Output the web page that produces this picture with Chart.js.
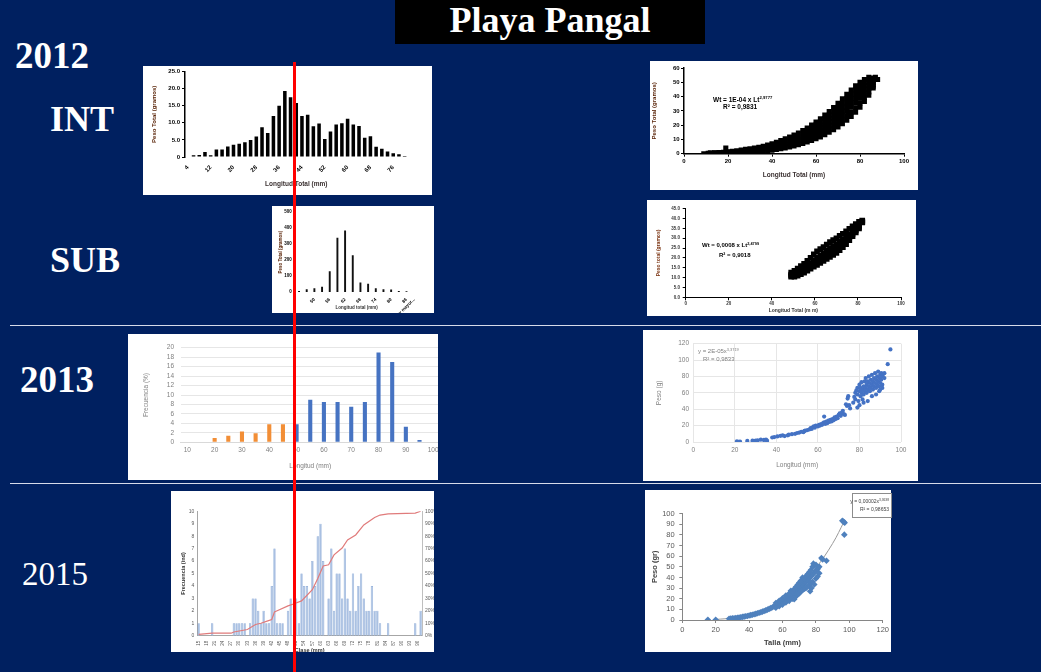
<!DOCTYPE html>
<html lang="es">
<head>
<meta charset="utf-8">
<title>Playa Pangal</title>
<script src="https://cdn.jsdelivr.net/npm/chart.js@4.4.1/dist/chart.umd.min.js"></script>
<style>
  html, body { margin: 0; padding: 0; }
  body { width: 1041px; height: 672px; background: #002060; position: relative; overflow: hidden; }
  .big { position: absolute; color: #fff; font-family: "Liberation Serif", "Times New Roman", serif;
         font-weight: bold; line-height: 1; white-space: nowrap; }
  #title { position: absolute; left: 395px; top: 0; width: 310px; height: 44px; background: #000; }
  #title .big { left: 0; right: 0; top: 2px; text-align: center; font-size: 36px; }
  .panel { position: absolute; background: #fff; overflow: hidden; }
  .panel canvas { position: absolute; }
  .sep { position: absolute; left: 10px; width: 1031px; height: 1px; background: #d6dbe9; }
  #redline { position: absolute; left: 293px; top: 62px; width: 3px; height: 610px; background: #ff0000; z-index: 20; }
  .eq { position: absolute; white-space: nowrap; line-height: 1; z-index: 5;
        font-family: "Liberation Sans", Arial, sans-serif; }
  .eq sup { font-size: 65%; vertical-align: 0; position: relative; top: -0.6em; }
  #eqbox { position: absolute; left: 852px; top: 493px; width: 38px; height: 23px; background: #fff;
           border: 1px solid #8c8c8c; z-index: 5; font-family: "Liberation Sans", Arial, sans-serif;
           font-size: 5px; color: #404040; text-align: right; line-height: 1; }
  #eqbox div { position: absolute; right: 2px; white-space: nowrap; }
  #eqbox sup { font-size: 65%; vertical-align: 0; position: relative; top: -0.6em; }
</style>
</head>
<body>
<div id="title"><span class="big">Playa Pangal</span></div>
<span class="big" style="left:15px;top:37px;font-size:37px">2012</span>
<span class="big" style="left:50px;top:101px;font-size:36px">INT</span>
<span class="big" style="left:50px;top:242px;font-size:36px">SUB</span>
<span class="big" style="left:20px;top:361px;font-size:37px">2013</span>
<span class="big" style="left:22px;top:558px;font-size:33px;font-weight:normal">2015</span>
<div class="sep" style="top:325px"></div>
<div class="sep" style="top:483px"></div>

<div class="eq" style="left:713px;top:97px;font-size:6.5px;font-weight:bold;color:#000">Wt = 1E-04 x Lt<sup>2,9777</sup></div>
<div class="eq" style="left:723px;top:104px;font-size:6.5px;font-weight:bold;color:#000">R² = 0,9831</div>
<div class="eq" style="left:702px;top:242px;font-size:6px;font-weight:bold;color:#000">Wt = 0,0008 x Lt<sup>2,4799</sup></div>
<div class="eq" style="left:719px;top:251.5px;font-size:6px;font-weight:bold;color:#000">R² = 0,9018</div>
<div class="eq" style="left:698px;top:348px;font-size:6px;color:#7f7f7f">y = 2E-05x<sup>3,3719</sup></div>
<div class="eq" style="left:703px;top:355.5px;font-size:6px;color:#7f7f7f">R² = 0,9833</div>
<div id="eqbox">
  <div style="top:5px">y = 0,00002x<sup>3,3638</sup></div>
  <div style="top:13px">R² = 0,98653</div>
</div>
<div id="redline"></div>

<script>
// ---------- 2012 INT : histogram ----------
const intClasses = ['4','6','8','10','12','14','16','18','20','22','24','26','28','30','32','34','36','38','40',
  '42','44','46','48','50','52','54','56','58','60','62','64','66','68','70','72','74','76','78','80'];
const intWeight = [0, 0.5, 0.6, 1.5, 0.5, 2.2, 2.2, 3.1, 3.6, 3.9, 4.3, 5.0, 6.0, 8.7, 7.0, 12.0, 15.0, 19.3,
  17.5, 15.8, 12.0, 12.4, 9.0, 9.8, 5.3, 7.5, 9.5, 9.9, 11.2, 9.5, 9.1, 5.6, 6.1, 3.0, 2.4, 1.6, 1.1, 0.8, 0.3];

// ---------- 2012 INT : length-weight cloud (read in rows) ----------
const intLen = [12,14,16,18,20,22,24,26,28,30,32,34,36,38,40,42,44,46,48,50,52,54,56,58,60,62,64,66,68,70,72,74,76,78,80,82,84,86];
const intRow1 = [0,0,0,0.1,0.2,0.3,0.4,0.5,0.6,0.8,1.0,1.3,1.6,2.0,2.5,3.0,3.5,4.1,4.8,5.5,6.3,7.2,8.2,9.3,10.5,11.8,13.3,15.0,16.8,18.8,21.0,23.4,26.0,29.0,32.5,36.5,41.0,46.0];
const intRow2 = [0.2,0.2,0.3,0.4,0.5,0.7,0.9,1.1,1.3,1.6,1.9,2.3,2.8,3.3,3.9,4.6,5.3,6.1,7.0,8.0,9.1,10.3,11.6,13.0,14.5,16.2,18.0,20.0,22.2,24.5,27.0,29.7,32.5,35.5,38.8,42.0,45.5,48.5];
const intRow3 = [0.3,0.4,0.5,0.7,0.9,1.1,1.4,1.7,2.0,2.4,2.8,3.3,3.9,4.5,5.3,6.1,7.0,8.0,9.1,10.3,11.6,13.0,14.6,16.3,18.1,20.1,22.3,24.6,27.1,29.8,32.6,35.6,38.7,41.8,44.8,47.5,50.0,51.0];
const intRow4 = [0.5,0.6,0.8,1.0,1.4,1.7,2.1,2.5,3.0,3.4,3.9,4.5,5.2,6.0,7.0,8.0,9.2,10.4,11.6,13.0,14.5,16.2,18.0,20.0,22.2,24.5,27.0,29.6,32.4,35.3,38.4,41.6,44.5,47.5,50.0,52.0,53.5,53.0];
// denser upper part of the cloud
const intLenHi = [56,58,60,62,64,66,68,70,72,74,76,78,80,82,84,86];
const intRowA = [9.9,11.2,12.5,14.0,15.6,17.5,19.5,21.6,24.0,26.5,29.2,32.2,35.6,39.2,43.2,47.2];
const intRowB = [13.1,14.6,16.3,18.1,20.1,22.3,24.6,27.1,29.8,32.6,35.6,38.6,41.8,44.8,47.8,49.8];
const intRowC = [16.3,18.1,20.1,22.3,24.6,27.1,29.7,32.5,35.5,38.6,41.6,44.6,47.4,49.8,51.8,52.0];
const intExtra = [[9,0],[11,0.2],[19,4],[74.5,27],[87,53.5],[88,52]];

// ---------- 2012 SUB : histogram ----------
const subClasses = ['44','47','50','53','56','59','62','65','68','71','74','77','80','83','86','y mayor...'];
const subWeight = [6, 17, 23, 33, 130, 340, 385, 230, 60, 52, 23, 17, 15, 6, 4, 0];

// ---------- 2012 SUB : length-weight cloud ----------
const subLen  = [49,50.5,52,53.5,55,56.5,58,59.5,61,62.5,64,65.5,67,68.5,70,71.5,73,74.5,76,77.5,79,80.5,82];
const subLow  = [10.5,10.5,11.0,11.8,12.5,13.5,14.5,15.5,16.5,17.5,18.5,19.5,20.5,21.5,22.5,24.0,25.5,27.0,29.0,31.0,33.0,35.0,38.0];
const subLowMid = [11.0,11.2,11.9,12.8,13.6,14.7,15.9,17.1,18.2,19.4,20.5,21.6,22.7,23.7,24.7,26.1,27.5,28.9,30.5,32.2,34.0,35.7,38.2];
const subMid  = [11.5,12.0,12.8,13.8,14.8,16.0,17.3,18.8,20.0,21.3,22.5,23.8,25.0,26.0,27.0,28.3,29.5,30.8,32.0,33.5,35.0,36.5,38.5];
const subHigh = [12.5,13.5,14.6,15.8,17.0,18.5,20.0,21.8,23.3,24.5,25.5,26.8,28.0,29.0,30.0,31.2,32.3,33.5,34.8,36.0,37.2,38.3,39.0];

// ---------- 2013 : frequency histogram ----------
const h13Classes = ['10','15','20','25','30','35','40','45','50','55','60','65','70','75','80','85','90','95','100'];
const h13Juv = [null,null,0.9,1.4,2.3,1.9,3.8,3.8,null,null,null,null,null,null,null,null,null,null,null];
const h13Adu = [null,null,null,null,null,null,null,null,3.8,9.0,8.5,8.5,7.5,8.5,19.0,17.0,3.3,0.5,null];

// ---------- 2013 : length-weight ----------
const s13 = [[21,0.8],[22,0.2],[22.5,0.6],[26,1.3],[28.5,1.6],[30,1.8],[31,2.1],[32.5,2.8],[34,2.5],[35,3.0],[35.5,1.6],
  [38,5.5],[39,6.0],[40.5,6.8],[42,7.5],[43,8.0],[44,7.2],[45.5,8.2],[46,9.0],[47.5,9.5],[49,10.0],[50,11.0],[51,11.5],
  [52,12.5],[53,12.0],[53.5,13.5],[54,14.0],[55,14.5],[56,15.5],[56.5,17.0],[57,16.0],[57.5,18.0],[58,19.0],[58.5,17.5],
  [59,20.0],[60,19.0],[60.5,21.0],[61,20.0],[61.5,22.0],[62,21.0],[62.5,23.0],[63,31.0],[63,24.0],[63.5,22.0],[64,25.0],
  [64.5,23.0],[65,26.0],[65.5,24.5],[66,27.0],[66.5,25.0],[67,28.0],[67.5,26.5],[68,30.0],[68.5,28.0],[69,31.0],[69.5,29.0],
  [70,33.0],[70.5,35.0],[71,32.0],[71.5,36.0],[72,38.0],[72.5,34.0],[73,33.0],[73.5,46.0],[74,44.0],[74.3,53.0],[74.6,56.0],
  [75,45.0],[75.5,41.0],[77,48],[77.5,55],[78,60],[78,52],[78.5,63],[79,58],[79,66],[79.5,50],[80,62],[80,70],[80.5,56],
  [80.5,66],[81,60],[81,73],[81.5,64],[81.5,52],[82,68],[82,58],[82.5,74],[82.5,62],[83,66],[83,78],[83.5,60],[83.5,70],
  [84,64],[84,74],[84.5,68],[84.5,80],[85,62],[85,72],[85.5,76],[85.5,66],[86,70],[86,82],[86.5,74],[86.5,64],[87,68],
  [87,78],[87.5,72],[87.5,84],[88,76],[88,66],[88.5,80],[88.5,70],[89,74],[89,86],[89.5,78],[89.5,68],[90,82],[90,72],
  [90.5,76],[90.5,84],[91,80],[91,70],[91.5,83],[92,78],[92,84],[89.5,62],[91,66],[88,58],[86,56],[84,50],[82,48],
  [80,45],[79,42],[90,64],[93.6,95],[94.9,113]];

// ---------- 2015 : frequency by class + cumulative ----------
const h15Classes = ['15','16','17','18','19','20','21','22','23','24','25','26','27','28','29','30','31','32','33','34',
  '35','36','37','38','39','40','41','42','43','44','45','46','47','48','49','50','51','52','53','54','55','56','57','58',
  '59','60','61','62','63','64','65','66','67','68','69','70','71','72','73','74','75','76','77','78','79','80','81','82',
  '83','84','85','86','87','88','89','90','91','92','93','94','95','96','97'];
const h15Count = [1,0,0,0,0, 1,0,0,0,0, 0,0,0,1,1, 1,1,1,0,1, 3,3,2,1,2, 1,1,4,7,1, 1,1,0,2,3, 0,3,1,5,4,
  4,3,6,4,8, 9,6,0,3,7, 2,5,5,3,7, 3,2,5,2,4, 5,3,2,2,4, 2,2,1,0,0, 1,0,0,0,0, 0,0,0,0,0, 1,0,2];
const cumClass = ['15','20','27','28','33','36','38','40','42','43','44','48','50','53','57','59','61','63','65','68','70','73','76','80','82','85','95','97'];
const cumPct   = [1, 2, 2, 3, 5, 9, 10, 11.5, 13, 19, 20, 24, 25.5, 28, 37, 46, 56, 57, 65, 70.5, 77, 81, 89, 95, 97, 98, 98.5, 100];

// ---------- 2015 : length-weight ----------
const taLen = [28,29,30,31,32,33,34,35,36,37,38,39,40,41,42,43,44,45,46,47,48,49,50,51,52,53,54,55,56,57,58,59,60,
  61,62,63,64,65,66,67,68,69,70,71,72,73,74,75,76,77,78,79,80];
const taMid = [1.2,1.3,1.5,1.7,1.9,2.1,2.3,2.6,2.9,3.2,3.5,3.8,4.2,4.6,5.0,5.4,5.8,6.3,6.8,7.3,7.9,8.5,9.1,9.8,10.5,
  11.2,12.0,12.8,13.6,14.5,15.4,16.2,17.2,18.2,19.3,20.4,21.5,22.8,24.0,25.3,26.7,28.2,29.7,31.2,32.8,34.3,35.9,37.5,
  39.2,41.0,42.8,44.5,46.3];
const taSpread = [[56,16],[58,18],[60,20.5],[62,23],[64,25],[65,27.5],[66,27],[67,29],[68,31],[69,33],[70,35],[71,37],
  [72,40],[73,38.5],[74,41],[75,43],[76,45],[77,47],[78,50],[78.5,53],[79,51],[80,52],[81,48],[82,50],
  [56,11.5],[58,13],[60,14.5],[62,16.5],[64,18],[66,20],[67,19.5],[68,22],[69,24],[70,25],[71,27],[72,28],[73,29.5],
  [74,30],[75,31.5],[76,33],[77.3,30],[76.5,27],[77,35],[78,36],[79,33.5],[80,39],[81,41],[82,44]];
const taEdge = [[15.3,0.2],[20,0.3],[83.3,58.3],[86.3,55.8],[84,57],[95.8,93.4],[96.5,92.5],[97.2,91.6],[97,80.3]];
const taTrendL = [20, 30, 40, 50, 60, 70, 80, 90, 97];
const taTrendW = [0.5, 1.9, 4.7, 9.5, 18, 31, 49, 72, 93];

// ---------- helpers ----------
Chart.defaults.font.family = "'Liberation Sans', Arial, sans-serif";

function mount(box, c) {
  const div = document.createElement('div');
  div.className = 'panel';
  Object.assign(div.style, { left: box.x + 'px', top: box.y + 'px', width: box.w + 'px', height: box.h + 'px' });
  const cv = document.createElement('canvas');
  cv.width = c.w;
  cv.height = c.h;
  Object.assign(cv.style, { left: (c.x - box.x) + 'px', top: (c.y - box.y) + 'px', width: c.w + 'px', height: c.h + 'px' });
  div.appendChild(cv);
  document.body.appendChild(div);
  return cv;
}

// fixes the plot area to the given page rectangle
function draw(box, c, plot, cfg) {
  const cv = mount(box, c);
  const sc = cfg.options.scales;
  sc.x.afterFit = s => { s.height = c.y + c.h - plot.b; };
  sc.y.afterFit = s => { s.width = plot.l - c.x; };
  let right = c.x + c.w - plot.r;
  if (sc.y2) { const w = right; sc.y2.afterFit = s => { s.width = w; }; right = 0; }
  cfg.options.responsive = false;
  cfg.options.animation = false;
  cfg.options.plugins = { legend: { display: false }, tooltip: { enabled: false } };
  cfg.options.layout = { padding: { left: 0, top: plot.t - c.y, right: right, bottom: 0 } };
  return new Chart(cv, cfg);
}

const pts = (xs, ys) => xs.map((x, i) => ({ x: x, y: ys[i] }));
const pairs = list => list.map(p => ({ x: p[0], y: p[1] }));

const bold = s => ({ size: s, weight: 'bold' });
const noGrid = { display: false, drawTicks: false };
const axis2012 = { drawOnChartArea: false, drawTicks: true, tickLength: 3, color: '#000', lineWidth: 1 };

// ---------- 2012 INT histogram ----------
const intBox = { x: 143, y: 66, w: 289, h: 129 };
draw(intBox, intBox, { l: 185, t: 71, r: 407.5, b: 157 }, {
  type: 'bar',
  data: { labels: intClasses, datasets: [{ data: intWeight, backgroundColor: '#000', barPercentage: 0.62, categoryPercentage: 1 }] },
  options: { scales: {
    x: { grid: noGrid, border: { display: false },
      ticks: { autoSkip: false, minRotation: 45, maxRotation: 45, padding: 7, color: '#000', font: bold(6),
        callback: (v, i) => i % 4 === 0 ? intClasses[i] : '' },
      title: { display: true, text: 'Longitud Total (mm)', color: '#3a3030', font: bold(6.5), padding: { top: 0, bottom: 7 } } },
    y: { min: 0, max: 25,
      ticks: { autoSkip: false, stepSize: 5, padding: 2, color: '#000', font: bold(6), callback: v => v === 0 ? '0' : v.toFixed(1) },
      grid: axis2012, border: { display: true, color: '#000', width: 1.5 },
      title: { display: true, text: 'Peso Total (gramos)', color: '#5a2408', font: bold(6), padding: { top: 8, bottom: 0 } } }
  } }
});

// ---------- 2012 INT scatter ----------
const intPts = [];
[intRow1, intRow2, intRow3, intRow4].forEach(row => intPts.push(...pts(intLen, row)));
[intRowA, intRowB, intRowC].forEach(row => intPts.push(...pts(intLenHi, row)));
intPts.push(...pairs(intExtra));
const intSBox = { x: 650, y: 61, w: 268, h: 129 };
draw(intSBox, intSBox, { l: 684, t: 68, r: 904, b: 153.7 }, {
  type: 'scatter',
  data: { datasets: [{ data: intPts, pointStyle: 'rect', pointRadius: 3.6, backgroundColor: '#000', borderWidth: 0 }] },
  options: { scales: {
    x: { type: 'linear', min: 0, max: 100, ticks: { stepSize: 20, padding: 1, color: '#000', font: bold(6) },
      grid: axis2012, border: { display: true, color: '#000', width: 1.5 },
      title: { display: true, text: 'Longitud Total (mm)', color: '#3a3030', font: bold(6.5), padding: { top: 0, bottom: 11 } } },
    y: { min: 0, max: 60, ticks: { autoSkip: false, stepSize: 10, padding: 1.3, color: '#000', font: bold(6) },
      grid: axis2012, border: { display: true, color: '#000', width: 1.5 },
      title: { display: true, text: 'Peso Total (gramos)', color: '#5a2408', font: bold(6), padding: { top: 0.5, bottom: 0 } } }
  } }
});

// ---------- 2012 SUB histogram ----------
const subBox = { x: 272, y: 206, w: 162, h: 107 };
draw(subBox, subBox, { l: 295.2, t: 211.3, r: 418, b: 292 }, {
  type: 'bar',
  data: { labels: subClasses, datasets: [{ data: subWeight, backgroundColor: '#111', barPercentage: 0.25, categoryPercentage: 1 }] },
  options: { scales: {
    x: { grid: noGrid, border: { display: false },
      ticks: { autoSkip: false, minRotation: 45, maxRotation: 45, padding: 5, color: '#000', font: bold(4.5),
        callback: (v, i) => (i >= 2 && i % 2 === 0) || i === subClasses.length - 1 ? subClasses[i] : '' },
      title: { display: true, text: 'Longitud total (mm)', color: '#333', font: bold(4.5), padding: { top: 0, bottom: 2.3 } } },
    y: { min: 0, max: 500, ticks: { autoSkip: false, stepSize: 100, padding: 3.5, color: '#000', font: bold(4.5) },
      grid: noGrid, border: { display: false },
      title: { display: true, text: 'Peso Total (gramos)', color: '#5a2408', font: bold(4.5), padding: { top: 6, bottom: 0 } } }
  } }
});

// ---------- 2012 SUB scatter ----------
const subPts = [];
[subLow, subLowMid, subMid, subHigh].forEach(row => subPts.push(...pts(subLen, row)));
const subSBox = { x: 647, y: 200, w: 269, h: 116 };
draw(subSBox, subSBox, { l: 685.7, t: 208.7, r: 901, b: 297.3 }, {
  type: 'scatter',
  data: { datasets: [{ data: subPts, pointStyle: 'rect', pointRadius: 4, backgroundColor: '#000', borderWidth: 0 }] },
  options: { scales: {
    x: { type: 'linear', min: 0, max: 100, ticks: { stepSize: 20, padding: 1, color: '#333', font: bold(4.5) },
      grid: axis2012, border: { display: true, color: '#000', width: 1 },
      title: { display: true, text: 'Longitud Total (m m)', color: '#333', font: bold(5), padding: { top: 0, bottom: 2 } } },
    y: { min: 0, max: 45, ticks: { autoSkip: false, stepSize: 5, padding: 2.7, color: '#333', font: bold(4.5), callback: v => v.toFixed(1) },
      grid: axis2012, border: { display: true, color: '#000', width: 1 },
      title: { display: true, text: 'Peso total (gramos)', color: '#7a3210', font: bold(5), padding: { top: 9, bottom: 0 } } }
  } }
});

// ---------- 2013 histogram ----------
const gray13 = '#7f7f7f';
draw({ x: 128, y: 334, w: 310, h: 146 }, { x: 128, y: 334, w: 330, h: 146 }, { l: 180.5, t: 347.7, r: 440, b: 442.3 }, {
  type: 'bar',
  data: { labels: h13Classes, datasets: [
    { data: h13Juv, backgroundColor: '#F28E36', barPercentage: 0.3, categoryPercentage: 1, grouped: false },
    { data: h13Adu, backgroundColor: '#4673C2', barPercentage: 0.3, categoryPercentage: 1, grouped: false }
  ] },
  options: { scales: {
    x: { grid: noGrid, border: { display: true, color: '#d9d9d9', width: 1 },
      ticks: { autoSkip: false, maxRotation: 0, padding: 4, color: gray13, font: { size: 6.5 },
        callback: (v, i) => i % 2 === 0 ? h13Classes[i] : '' },
      title: { display: true, text: 'Longitud (mm)', color: gray13, font: { size: 6.5 }, padding: { top: 0, bottom: 10 } } },
    y: { min: 0, max: 20, ticks: { autoSkip: false, stepSize: 2, padding: 6.5, color: gray13, font: { size: 6.5 } },
      grid: { color: '#e6e6e6', drawTicks: false }, border: { display: false },
      title: { display: true, text: 'Frecuencia (%)', color: gray13, font: { size: 6.5 }, padding: { top: 14, bottom: 0 } } }
  } }
});

// ---------- 2013 scatter ----------
const s13Box = { x: 643, y: 330, w: 275, h: 151 };
draw(s13Box, s13Box, { l: 693.3, t: 343.7, r: 901, b: 442 }, {
  type: 'scatter',
  data: { datasets: [{ data: pairs(s13), pointRadius: 2.1, backgroundColor: '#4472C4', borderWidth: 0 }] },
  options: { scales: {
    x: { type: 'linear', min: 0, max: 100, ticks: { stepSize: 20, padding: 4, color: gray13, font: { size: 6.5 } },
      grid: { color: '#e6e6e6', drawTicks: false }, border: { display: false },
      title: { display: true, text: 'Longitud (mm)', color: gray13, font: { size: 6.5 }, padding: { top: 0, bottom: 12 } } },
    y: { min: 0, max: 120, ticks: { autoSkip: false, stepSize: 20, padding: 4.3, color: gray13, font: { size: 6.5 } },
      grid: { color: '#e6e6e6', drawTicks: false }, border: { display: false },
      title: { display: true, text: 'Peso (g)', color: gray13, font: { size: 6.5 }, padding: { top: 12, bottom: 0 } } }
  } }
});

// ---------- 2015 histogram + cumulative ----------
const gray15 = '#595959';
draw({ x: 171, y: 491, w: 263, h: 161 }, { x: 171, y: 491, w: 272, h: 164 }, { l: 197.3, t: 511.3, r: 422, b: 635.7 }, {
  type: 'bar',
  data: { labels: h15Classes, datasets: [
    { type: 'line', data: cumClass.map((c, i) => ({ x: c, y: cumPct[i] })), yAxisID: 'y2', order: 0,
      borderColor: '#E07B7B', borderWidth: 1.2, pointRadius: 0, tension: 0, fill: false },
    { type: 'bar', data: h15Count, yAxisID: 'y', order: 1, backgroundColor: '#A9C0E2',
      borderColor: '#6A90CA', borderWidth: 0.5, barPercentage: 0.85, categoryPercentage: 1 }
  ] },
  options: { scales: {
    x: { grid: noGrid, border: { display: true, color: '#a6a6a6' },
      ticks: { autoSkip: false, minRotation: 90, maxRotation: 90, padding: 5, color: gray15, font: { size: 4.5 },
        callback: (v, i) => i % 3 === 0 ? h15Classes[i] : '' },
      title: { display: true, text: 'Clase (mm)', color: '#333', font: bold(5.5), padding: { top: 0, bottom: 1 } } },
    y: { position: 'left', min: 0, max: 10, ticks: { autoSkip: false, stepSize: 1, padding: 3, color: gray15, font: { size: 5 } },
      grid: noGrid, border: { display: true, color: '#a6a6a6' },
      title: { display: true, text: 'Frecuencia (ind)', color: '#333', font: bold(5.5), padding: { top: 8.7, bottom: 0 } } },
    y2: { position: 'right', min: 0, max: 100,
      ticks: { autoSkip: false, stepSize: 10, padding: 3, color: gray15, font: { size: 5 }, callback: v => v + '%' },
      grid: noGrid, border: { display: true, color: '#bfbfbf' } }
  } }
});

// ---------- 2015 scatter ----------
const taPts = pts(taLen, taMid).concat(pairs(taSpread), pairs(taEdge));
const axis15 = { drawOnChartArea: false, drawTicks: true, tickLength: 3, color: '#868686' };
const s15Box = { x: 645, y: 490, w: 246, h: 162 };
draw(s15Box, s15Box, { l: 682.3, t: 513.7, r: 883.7, b: 620 }, {
  type: 'scatter',
  data: { datasets: [
    { data: taPts, pointStyle: 'rectRot', pointRadius: 3.3, backgroundColor: '#4F81BD', borderWidth: 0 },
    { data: pts(taTrendL, taTrendW), showLine: true, pointRadius: 0, borderColor: '#9a9a9a', borderWidth: 1, tension: 0.4 }
  ] },
  options: { scales: {
    x: { type: 'linear', min: 0, max: 120, ticks: { stepSize: 20, padding: 2, color: gray15, font: { size: 7.5 } },
      grid: axis15, border: { display: true, color: '#868686' },
      title: { display: true, text: 'Talla (mm)', color: '#404040', font: bold(7.5), padding: { top: 0, bottom: 4.5 } } },
    y: { min: 0, max: 100, ticks: { autoSkip: false, stepSize: 10, padding: 4.6, color: gray15, font: { size: 7.5 } },
      grid: axis15, border: { display: true, color: '#868686' },
      title: { display: true, text: 'Peso (gr)', color: '#404040', font: bold(7.5), padding: { top: 5, bottom: 0 } } }
  } }
});
</script>
</body>
</html>
